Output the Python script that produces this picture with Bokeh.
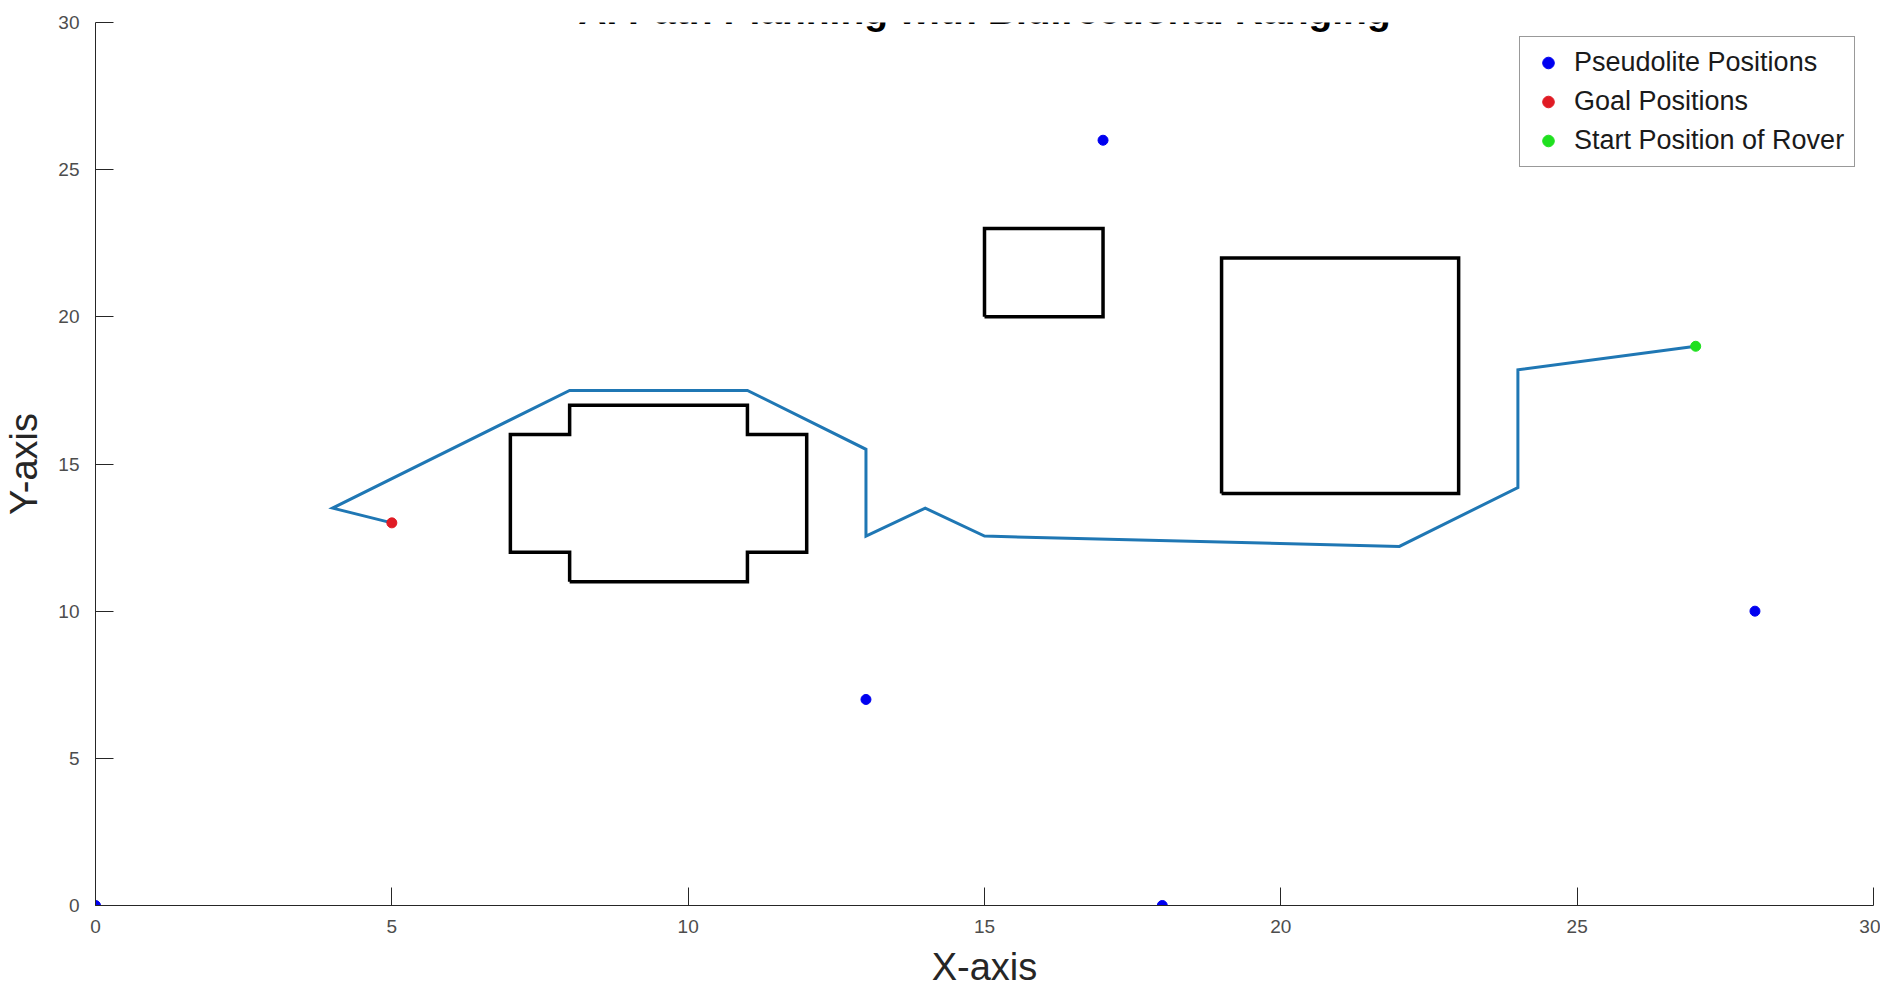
from bokeh.plotting import figure
from bokeh.models import Range1d, Label, Legend, LegendItem, FixedTicker
from bokeh.embed import file_html
from bokeh.resources import INLINE

# ---- data ----
pseudo_x = [0, 17, 13, 18, 28]
pseudo_y = [0, 26, 7, 0, 10]
goal_x = [5]
goal_y = [13]
start_x = [27]
start_y = [19]

path_x = [27, 24, 24, 22, 15, 14, 13, 13, 11, 8, 4, 5]
path_y = [19, 18.2, 14.2, 12.2, 12.55, 13.5, 12.55, 15.5, 17.5, 17.5, 13.5, 13]

obs1_x = [8, 11, 11, 12, 12, 11, 11, 8, 8, 7, 7, 8, 8]
obs1_y = [11, 11, 12, 12, 16, 16, 17, 17, 16, 16, 12, 12, 11]
obs2_x = [15, 17, 17, 15, 15]
obs2_y = [20, 20, 23, 23, 20]
obs3_x = [19, 23, 23, 19, 19]
obs3_y = [14, 14, 22, 22, 14]

ticks = [0, 5, 10, 15, 20, 25, 30]
title_text = "AI Path Planning with Bidirectional Ranging"

FONT = "Liberation Sans"

p = figure(width=1880, height=990, output_backend="svg", toolbar_location=None,
           x_range=Range1d(0, 30), y_range=Range1d(0, 30),
           min_border_left=95, min_border_right=7, min_border_top=22, min_border_bottom=83)
p.outline_line_color = None
p.grid.visible = False
p.background_fill_color = "white"
p.border_fill_color = "white"

for ax in (p.xaxis[0], p.yaxis[0]):
    ax.ticker = FixedTicker(ticks=ticks)
    ax.minor_tick_line_color = None
    ax.major_tick_in = 18
    ax.major_tick_out = 0
    ax.axis_line_color = "#262626"
    ax.major_tick_line_color = "#262626"
    ax.major_label_text_font = FONT
    ax.major_label_text_font_size = "19px"
    ax.major_label_text_color = "#4d4d4d"
    ax.axis_label_text_font = FONT
    ax.axis_label_text_font_size = "38px"
    ax.axis_label_text_font_style = "normal"
    ax.axis_label_text_color = "#262626"

p.xaxis.axis_label = "X-axis"
p.yaxis.axis_label = "Y-axis"
p.xaxis.major_label_standoff = 14
p.xaxis.axis_label_standoff = 10
p.yaxis.major_label_standoff = 16
p.yaxis.axis_label_standoff = 10

# obstacles
for ox, oy in ((obs1_x, obs1_y), (obs2_x, obs2_y), (obs3_x, obs3_y)):
    p.line(ox, oy, line_color="black", line_width=3.5, line_join="miter")

# path
p.line(path_x, path_y, line_color="#1f77b4", line_width=3, line_join="miter")

r_p = p.scatter(pseudo_x, pseudo_y, size=10, fill_color="#0000f0", line_color="#0000f0")
r_g = p.scatter(goal_x, goal_y, size=10, fill_color="#e01b24", line_color="#e01b24")
r_s = p.scatter(start_x, start_y, size=10, fill_color="#1fe01f", line_color="#1fe01f")

legend = Legend(items=[
    LegendItem(label="Pseudolite Positions", renderers=[r_p]),
    LegendItem(label="Goal Positions", renderers=[r_g]),
    LegendItem(label="Start Position of Rover", renderers=[r_s]),
], location=(1424, 738))
legend.label_text_font = FONT
legend.label_text_font_size = "27px"
legend.label_text_color = "#1a1a1a"
legend.padding = 10
legend.glyph_width = 36
legend.glyph_height = 29
legend.label_height = 29
legend.label_standoff = 8
legend.spacing = 8
legend.margin = 0
legend.border_line_color = "#333333"
legend.border_line_width = 1
legend.background_fill_alpha = 1
p.add_layout(legend, "center")

title = Label(x=15, y=30.40, text=title_text, text_align="center",
              text_baseline="alphabetic", text_font=FONT, text_font_size="39px",
              text_font_style="bold", text_color="black")
p.add_layout(title)

open("out.html", "w").write(file_html(p, INLINE))
